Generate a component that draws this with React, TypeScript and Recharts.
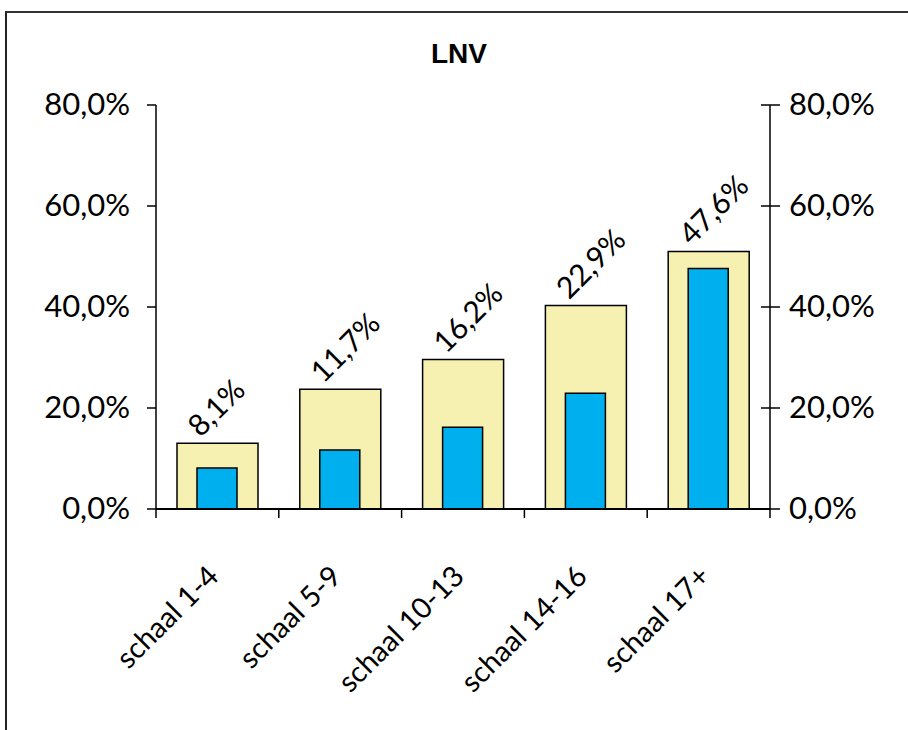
import React from 'react';
import { ComposedChart, Bar, Line, XAxis, YAxis, LabelList } from 'recharts';

const categories = ['schaal 1-4', 'schaal 5-9', 'schaal 10-13', 'schaal 14-16', 'schaal 17+'];
const totalValues = [13.0, 23.7, 29.6, 40.3, 51.0];
const shareValues = [8.1, 11.7, 16.2, 22.9, 47.6];
const positions = [0.5, 1.5, 2.5, 3.5, 4.5];
const yTicks = [0, 20, 40, 60, 80];
const boundaryTicks = [0, 1, 2, 3, 4, 5];

const data = categories.map((name, i) => ({
  name,
  total: totalValues[i],
  share: shareValues[i],
  pos: positions[i],
}));

const FONT = 'Lato, "Open Sans", sans-serif';
const fmt = (v: number) => v.toFixed(1).replace('.', ',') + '%';

const EmptyTick = () => <g />;

const XTick = (props: any) => {
  const { x, y, payload } = props;
  const px = x + 3;
  const py = y + 60;
  return (
    <text x={px} y={py} textAnchor="end" fontFamily={FONT} fontSize={29} fill="#000"
      transform={`rotate(-45, ${px}, ${py})`}>
      {payload.value}
    </text>
  );
};

const LeftTick = (props: any) => {
  const { x, y, payload } = props;
  return (
    <text x={x} y={y} dy={10} textAnchor="end" fontFamily={FONT} fontSize={31} fill="#000">
      {fmt(payload.value)}
    </text>
  );
};

const RightTick = (props: any) => {
  const { x, y, payload } = props;
  // x = axis + tickSize(10) + tickMargin(9)
  const ax = x - 19;
  return (
    <g>
      <line x1={ax - 9} x2={ax} y1={y} y2={y} stroke="#000" strokeWidth={1.5} />
      <text x={x} y={y} dy={10} textAnchor="start" fontFamily={FONT} fontSize={31} fill="#000">
        {fmt(payload.value)}
      </text>
    </g>
  );
};

const renderLabel = (props: any) => {
  const { x, y, width, value } = props;
  const cx = x + width / 2;
  const px = cx - 17;
  const py = y - 5;
  return (
    <text x={px} y={py} textAnchor="start" fontFamily={FONT} fontSize={30} fill="#000"
      transform={`rotate(-45, ${px}, ${py})`}>
      {fmt(value)}
    </text>
  );
};

export default function App() {
  return (
    <div style={{ position: 'absolute', left: 0, top: 0, width: 908, height: 730, overflow: 'hidden', background: '#fff' }}>
      <div style={{ position: 'absolute', left: 5, top: 11, width: 2000, height: 2000, borderTop: '2px solid #333', borderLeft: '2px solid #222' }} />
      <div style={{ position: 'absolute', left: 0, top: 38, width: 918, textAlign: 'center', fontFamily: 'Arial, "Liberation Sans", sans-serif', fontWeight: 'bold', fontSize: 28 }}>
        LNV
      </div>
      <div style={{ position: 'absolute', left: 0, top: 0 }}>
        <ComposedChart width={908} height={730} data={data} margin={{ top: 105, right: 0, bottom: 0, left: 0 }}>
          <XAxis xAxisId="a" type="number" dataKey="pos" domain={[0, 5]} ticks={boundaryTicks} interval={0}
            allowDataOverflow tick={<EmptyTick />} tickSize={9} height={1}
            tickLine={{ stroke: '#000', strokeWidth: 1.5 }} axisLine={{ stroke: '#000', strokeWidth: 2 }} />
          <XAxis xAxisId="lab" dataKey="name" height={220} interval={0} tickLine={false} axisLine={false} tick={<XTick />} />
          <XAxis xAxisId="zb" dataKey="name" hide />
          <YAxis yAxisId="l" domain={[0, 80]} ticks={yTicks} width={156} tickSize={9} tickMargin={17}
            tickLine={{ stroke: '#000', strokeWidth: 1.5 }} axisLine={{ stroke: '#000', strokeWidth: 1.5 }} tick={<LeftTick />} interval={0} />
          <YAxis yAxisId="r" orientation="right" domain={[0, 80]} ticks={yTicks} width={138} tickSize={10} tickMargin={9}
            allowDataOverflow
            tickLine={{ stroke: '#000', strokeWidth: 1.5 }} axisLine={{ stroke: '#000', strokeWidth: 1.5 }} tick={<RightTick />} interval={0} />
          <Bar xAxisId="lab" yAxisId="l" dataKey="total" barSize={81} fill="#F6F1B0" stroke="#000" strokeWidth={1.5} isAnimationActive={false}>
            <LabelList dataKey="share" content={renderLabel} />
          </Bar>
          <Bar xAxisId="zb" yAxisId="l" dataKey="share" barSize={40} fill="#00B0EE" stroke="#000" strokeWidth={1.5} isAnimationActive={false} />
          <Line xAxisId="a" yAxisId="r" dataKey="share" stroke="none" dot={false} activeDot={false} legendType="none" isAnimationActive={false} />
        </ComposedChart>
      </div>
    </div>
  );
}
